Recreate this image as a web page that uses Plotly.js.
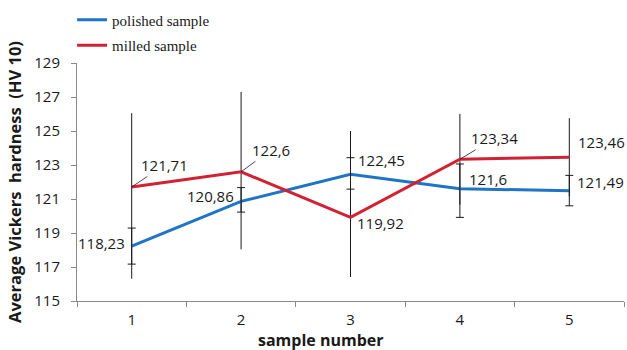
<!DOCTYPE html>
<html><head><meta charset="utf-8">
<script src="https://cdn.plot.ly/plotly-3.0.1.min.js"></script>
<style>html,body{margin:0;padding:0;background:#fff}</style>
</head><body><div id="chart" style="width:627px;height:350px"></div>
<script>
// ---- data ----
const samples = ['1', '2', '3', '4', '5'];
const polished = [118.23, 120.86, 122.45, 121.6, 121.49];
const polishedErrPlus = [1.06, 0.81, 0.98, 1.46, 0.9];
const polishedErrMinus = [1.06, 0.63, 0.87, 1.68, 0.89];
const milled = [121.71, 122.6, 119.92, 123.34, 123.46];
const milledErrPlus = [4.34, 4.7, 5.08, 2.67, 2.3];
const milledErrMinus = [5.4, 4.56, 3.51, 2.67, 2.3];
const yTicks = [115, 117, 119, 121, 123, 125, 127, 129];
const seriesNames = ['polished sample', 'milled sample'];

// ---- style ----
const blue = '#1f74c6';
const red = '#d02233';
const labelFont = {family: 'Open Sans, sans-serif', size: 15, color: '#1a1a1a'};
const polishedLabelPos = [
  {xanchor: 'right', xshift: -5, yshift: 3},
  {xanchor: 'right', xshift: -5, yshift: 5},
  {xanchor: 'left', xshift: 5, yshift: 14},
  {xanchor: 'left', xshift: 7, yshift: 10},
  {xanchor: 'left', xshift: 6, yshift: 9}
];
const milledLabelPos = [
  {arrow: true, ax: 33, ay: -22},
  {arrow: true, ax: 30, ay: -22},
  {xanchor: 'left', xshift: 4, yshift: -6},
  {arrow: true, ax: 35, ay: -21},
  {xanchor: 'left', xshift: 7, yshift: 15}
];
const fmt = v => String(v).replace('.', ',');

const traces = [
  {
    x: samples, y: polished, type: 'scatter', mode: 'lines', name: seriesNames[0],
    legendgroup: 'a',
    line: {color: blue, width: 3},
    error_y: {type: 'data', symmetric: false, array: polishedErrPlus, arrayminus: polishedErrMinus,
              color: '#1a1a1a', thickness: 1, width: 4}
  },
  {
    x: samples, y: milled, type: 'scatter', mode: 'lines', name: seriesNames[1],
    legendgroup: 'b',
    line: {color: red, width: 3},
    error_y: {type: 'data', symmetric: false, array: milledErrPlus, arrayminus: milledErrMinus,
              color: '#1a1a1a', thickness: 1, width: 0}
  }
];

// annotations on a category axis are positioned by category index
const annotations = [];
polished.forEach((v, i) => {
  const p = polishedLabelPos[i];
  annotations.push({x: i, y: v, xref: 'x', yref: 'y', text: fmt(v), showarrow: false,
    xanchor: p.xanchor, yanchor: 'middle', xshift: p.xshift, yshift: p.yshift, font: labelFont});
});
milled.forEach((v, i) => {
  const p = milledLabelPos[i];
  if (p.arrow) {
    annotations.push({x: i, y: v, xref: 'x', yref: 'y', text: fmt(v), showarrow: true,
      arrowhead: 0, arrowwidth: 0.8, arrowcolor: '#1a1a1a', ax: p.ax, ay: p.ay, standoff: 0,
      font: labelFont});
  } else {
    annotations.push({x: i, y: v, xref: 'x', yref: 'y', text: fmt(v), showarrow: false,
      xanchor: p.xanchor, yanchor: 'middle', xshift: p.xshift, yshift: p.yshift, font: labelFont});
  }
});
annotations.push({
  xref: 'paper', yref: 'paper', x: (321 - 77) / 547, y: 0, yshift: -39, xanchor: 'center', yanchor: 'middle',
  text: '<b>sample number</b>', showarrow: false,
  font: {family: 'Open Sans, sans-serif', size: 16, color: '#1a1a1a'}
});

const layout = {
  width: 627, height: 350,
  margin: {l: 77, r: 3, t: 59, b: 49, pad: 0},
  paper_bgcolor: '#fff', plot_bgcolor: '#fff',
  showlegend: true,
  legend: {
    x: -0.009, y: 1.25, xanchor: 'left', yanchor: 'top',
    traceorder: 'grouped', tracegroupgap: 3,
    font: {family: 'Liberation Serif, serif', size: 15, color: '#1a1a1a'},
    bgcolor: 'rgba(0,0,0,0)'
  },
  xaxis: {
    type: 'category', range: [-0.5, 4.5], tickson: 'boundaries',
    ticks: 'outside', ticklen: 5, tickcolor: '#8a8a8a', tickwidth: 1,
    showline: true, linecolor: '#8a8a8a', linewidth: 1,
    showgrid: false, zeroline: false,
    tickfont: labelFont, ticklabelstandoff: 5
  },
  yaxis: {
    range: [115, 129], tickvals: yTicks, ticktext: yTicks.map(String),
    ticks: 'outside', ticklen: 5, tickcolor: '#8a8a8a', tickwidth: 1,
    showline: true, linecolor: '#8a8a8a', linewidth: 1,
    showgrid: false, zeroline: false,
    tickfont: labelFont, ticklabelstandoff: 8,
    title: {text: '<b>Average Vickers\u00a0 hardness\u00a0 (HV 10)</b>', standoff: 8,
            font: {family: 'Open Sans, sans-serif', size: 16.5, color: '#1a1a1a'}},
    automargin: false
  },
  annotations: annotations
};

Plotly.newPlot('chart', traces, layout, {displayModeBar: false, staticPlot: true});
</script>
</body></html>
